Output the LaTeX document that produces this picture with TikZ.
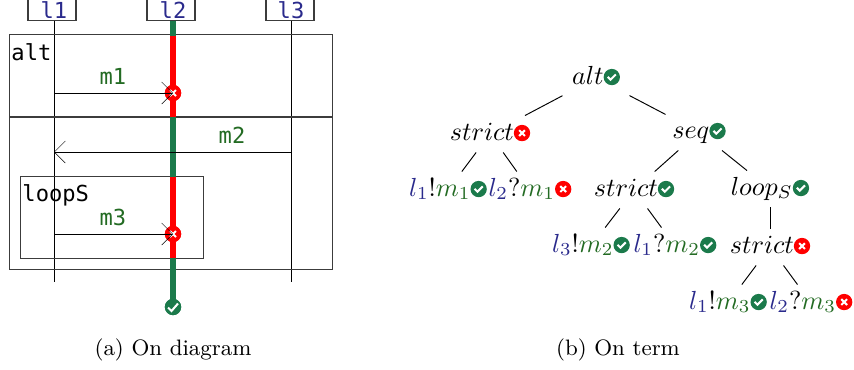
\RequirePackage{fix-cm}
\documentclass[tikz,border=0pt]{standalone}
\usepackage{fontspec}
\usetikzlibrary{arrows.meta}
\newfontfamily\monof{DejaVu Sans Mono}[Scale=0.92]
\definecolor{okgreen}{HTML}{1B7A4B}
\definecolor{kored}{HTML}{FF0000}
\definecolor{lifeblue}{HTML}{2A2A8C}
\definecolor{msggreen}{HTML}{236B23}
\definecolor{framegray}{HTML}{3C3C3C}
\newcommand\okicon{\tikz[baseline={(0,-2.9pt)},x=1pt,y=1pt]{\fill[okgreen] (0,0) circle (3.4pt);\draw[white,line width=.85pt] (-1.7,0.1) -- (-.5,-1.1) -- (1.7,1.1);}}
\newcommand\koicon{\tikz[baseline={(0,-2.9pt)},x=1pt,y=1pt]{\fill[kored] (0,0) circle (3.4pt);\draw[white,line width=.85pt] (-1.2,-1.2) -- (1.2,1.2) (-1.2,1.2) -- (1.2,-1.2);}}
\newcommand\lf[1]{{\color{lifeblue}#1}}
\newcommand\mg[1]{{\color{msggreen}#1}}
\tikzset{
  treenode/.style={font=\fontsize{10.9}{13}\selectfont,inner xsep=0pt,inner ysep=2pt,text height=8pt,text depth=3pt},
  widenode/.style={treenode,minimum width=27.5pt},
  treeedge/.style={black,line width=.4pt},
  frameline/.style={draw=framegray,line width=.45pt},
  lifebox/.style={draw=framegray,line width=.45pt,minimum width=20pt,minimum height=12pt,inner sep=0pt},
  lifetext/.style={font=\monof,text=lifeblue,inner sep=0pt,anchor=base},
  lifeline/.style={black,line width=.4pt},
  msg/.style={black,line width=.4pt,-{Straight Barb[length=4.6pt,width=9.2pt,line width=.2pt]}},
  msgtext/.style={font=\monof,text=msggreen,inner sep=0pt,anchor=base},
  fragtext/.style={font=\monof,text=black,inner sep=0pt,anchor=base west},
  okbar/.style={okgreen,line width=2.4pt},
  kobar/.style={kored,line width=2.4pt},
  capt/.style={font=\fontsize{9.3}{11}\selectfont,inner sep=0pt,anchor=base},
  okdot/.style={circle,fill=okgreen,minimum size=6.8pt,inner sep=0pt},
  kodot/.style={circle,fill=kored,minimum size=6.8pt,inner sep=0pt},
}
\begin{document}
\begin{tikzpicture}[x=0.41667pt,y=-0.41667pt]
\useasboundingbox (0,0) rectangle (854,369);
\clip (0,0) rectangle (854,369);
% lifelines
\node[lifebox,anchor=south] (b1) at (52,21) {};
\node[lifebox,anchor=south] (b2) at (171,21) {};
\node[lifebox,anchor=south] (b3) at (290,21) {};
\node[lifetext] (tl1) at (54,18) {l1};
\node[lifetext] (tl2) at (173,18) {l2};
\node[lifetext] (tl3) at (291,18) {l3};
\coordinate (e1) at (54,282);
\coordinate (t1) at (54,21);
\coordinate (t3) at (291,21);
\coordinate (e3) at (291,282);
\draw[lifeline] (t1) -- (e1);
\draw[lifeline] (t3) -- (e3);
% frames
\node[frameline,rectangle,minimum width=134.6pt,minimum height=97.9pt,inner sep=0pt,anchor=north west] (altf) at (9,34) {};
\coordinate (dl) at (9,117);
\coordinate (dr) at (332,117);
\draw[frameline] (dl) -- (dr);
\node[draw=framegray,line width=.45pt,rectangle,minimum width=76.2pt,minimum height=34.2pt,inner sep=0pt,anchor=north west] (loopf) at (20,176) {};
% bars
\coordinate (p0) at (173,21);
\coordinate (p1) at (173,35.5);
\coordinate (p2) at (173,117);
\coordinate (p3) at (173,176.5);
\coordinate (p4) at (173,258);
\node[okdot] (endok) at (173,307) {};
\node[kodot] (x1) at (173,93) {};
\node[kodot] (x2) at (173,234) {};
\draw[okbar] (p0) -- (p1);
\draw[kobar] (p1) -- (p2);
\draw[okbar] (p2) -- (p3);
\draw[kobar] (p3) -- (p4);
\draw[okbar] (p4) -- (endok.center);
\fill[okgreen] (endok) circle (3.4pt);
\draw[white,line width=.85pt] (168,307.5) -- (171.5,311) -- (178,303.5);
\fill[kored] (x1) circle (3.4pt);
\fill[kored] (x2) circle (3.4pt);
\draw[white,line width=.85pt] (170,90) -- (176,96) (170,96) -- (176,90);
\draw[white,line width=.85pt] (170,231) -- (176,237) (170,237) -- (176,231);
% messages
\coordinate (m1s) at (54,93);
\coordinate (m2s) at (291,152);
\coordinate (m2e) at (54,152);
\coordinate (m3s) at (54,234);
\draw[msg] (m1s) -- (x1.center);
\draw[msg] (m2s) -- (m2e);
\draw[msg] (m3s) -- (x2.center);
\node[msgtext] (lm1) at (113,84) {m1};
\node[msgtext] (lm2) at (232,143) {m2};
\node[msgtext] (lm3) at (113,225) {m3};
\node[fragtext] (lalt) at (11,60) {alt};
\node[fragtext] (lloop) at (22,201) {loopS};
% captions
\node[capt] (c1) at (173,355) {(a) On diagram};
\node[capt] (c2) at (618,355) {(b) On term};
% tree
\node[widenode] (alt) at (596,78) {$alt$\okicon};
\node[treenode] (st1) at (490,134) {$strict$\koicon};
\node[widenode] (seq) at (699,132) {$seq$\okicon};
\node[treenode] (a1) at (448,190) {$\lf{l_1}!\mg{m_1}$\okicon};
\node[treenode] (a2) at (530,190) {$\lf{l_2}?\mg{m_1}$\koicon};
\node[treenode] (st2) at (634,190) {$strict$\okicon};
\node[treenode] (lp) at (770,189) {$loop_S$\okicon};
\node[treenode] (a3) at (591,246) {$\lf{l_3}!\mg{m_2}$\okicon};
\node[treenode] (a4) at (675,246) {$\lf{l_1}?\mg{m_2}$\okicon};
\node[treenode] (st3) at (770,247) {$strict$\koicon};
\node[treenode] (a5) at (728,303) {$\lf{l_1}!\mg{m_3}$\okicon};
\node[treenode] (a6) at (811,303) {$\lf{l_2}?\mg{m_3}$\koicon};
\draw[treeedge] (alt) -- (st1);
\draw[treeedge] (alt) -- (seq);
\draw[treeedge] (st1) -- (a1);
\draw[treeedge] (st1) -- (a2);
\draw[treeedge] (seq) -- (st2);
\draw[treeedge] (seq) -- (lp);
\draw[treeedge] (st2) -- (a3);
\draw[treeedge] (st2) -- (a4);
\draw[treeedge] (lp) -- (st3);
\draw[treeedge] (st3) -- (a5);
\draw[treeedge] (st3) -- (a6);
\end{tikzpicture}
\end{document}
